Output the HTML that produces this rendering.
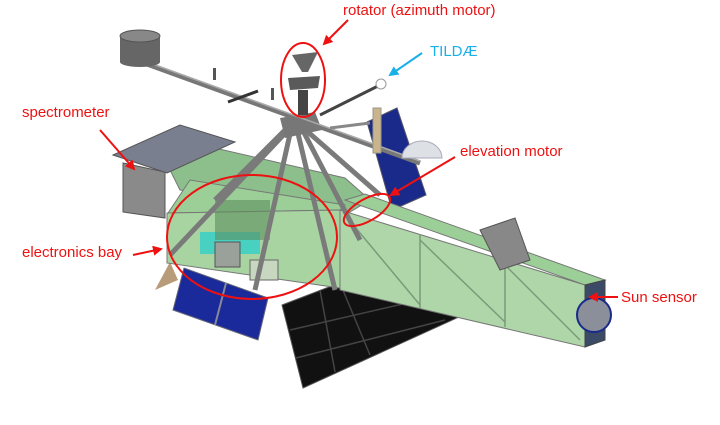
<!DOCTYPE html>
<html><head><style>body{margin:0;background:#fff}svg{display:block}text{font-family:"Liberation Sans",sans-serif;font-size:15px}</style></head><body>
<svg width="720" height="425" viewBox="0 0 720 425">
<defs><marker id="ar" viewBox="0 0 10 10" refX="8" refY="5" markerWidth="5" markerHeight="5" orient="auto"><path d="M0,0L10,5L0,10z" fill="#e11"/></marker>
<marker id="ab" viewBox="0 0 10 10" refX="8" refY="5" markerWidth="5" markerHeight="5" orient="auto"><path d="M0,0L10,5L0,10z" fill="#19b0e8"/></marker></defs>
<!-- upper right blue panel -->
<polygon points="367,122 397,108 426,195 392,210" fill="#1a2a8a" stroke="#556"/>
<!-- back green -->
<polygon points="165,160 215,148 345,178 370,200 345,215 180,190" fill="#8cbf8c" stroke="#777"/>
<!-- spectrometer -->
<polygon points="123,163 165,172 165,218 123,212" fill="#8a8a8a" stroke="#555"/>
<polygon points="113,155 180,125 235,142 167,173" fill="#7a7f8f" stroke="#555"/>
<!-- lower left blue panels -->
<polygon points="173,310 184,268 268,298 258,340" fill="#1a2a9a" stroke="#667"/>
<line x1="226" y1="283" x2="215" y2="325" stroke="#889" stroke-width="2"/>
<polygon points="155,290 170,262 178,280" fill="#b89c7a"/>
<!-- black panel -->
<polygon points="282,305 355,277 470,312 303,388" fill="#111" stroke="#555"/>
<g stroke="#444" stroke-width="1.5"><line x1="320" y1="290" x2="335" y2="372"/><line x1="340" y1="283" x2="370" y2="355"/><line x1="290" y1="330" x2="420" y2="300"/><line x1="296" y1="358" x2="445" y2="320"/></g>
<!-- tube -->
<polygon points="345,200 365,194 605,280 585,285" fill="#9ccf98" stroke="#777"/>
<polygon points="340,210 585,285 585,347 340,290" fill="#aed6a8" stroke="#777"/>
<polygon points="585,285 605,280 605,340 585,347" fill="#3b4a66" stroke="#444"/>
<circle cx="594" cy="315" r="17" fill="#8a8f9a" stroke="#1a2a8a" stroke-width="2"/>
<g stroke="#7a9a7a" stroke-width="1.5"><line x1="420" y1="234" x2="420" y2="308"/><line x1="505" y1="260" x2="505" y2="327"/><line x1="345" y1="215" x2="420" y2="305"/><line x1="420" y1="240" x2="505" y2="322"/><line x1="505" y1="265" x2="580" y2="340"/></g>
<polygon points="480,230 515,218 530,260 500,270" fill="#888" stroke="#555"/>
<!-- electronics bay -->
<polygon points="168,213 190,180 345,205 340,210" fill="#9ccf98" stroke="#777"/>
<polygon points="167,213 340,210 340,288 167,263" fill="#a8d4a2" stroke="#777"/>
<rect x="200" y="232" width="60" height="22" fill="#48d0c0"/>
<rect x="215" y="200" width="55" height="40" fill="#5e8e5e" opacity=".6"/>
<rect x="215" y="242" width="25" height="25" fill="#9aa09a" stroke="#555"/>
<rect x="250" y="260" width="28" height="20" fill="#c8d8c0" stroke="#666"/>
<!-- frame -->
<g stroke="#7a7a7a" stroke-width="5" fill="none">
<line x1="290" y1="125" x2="215" y2="200"/><line x1="292" y1="125" x2="255" y2="290"/><line x1="296" y1="125" x2="335" y2="290"/><line x1="300" y1="125" x2="360" y2="240"/><line x1="300" y1="125" x2="380" y2="195"/><line x1="290" y1="128" x2="170" y2="255"/>
</g>
<polygon points="280,118 315,112 322,130 285,138" fill="#777"/>
<!-- beam -->
<line x1="147" y1="64" x2="420" y2="163" stroke="#777" stroke-width="5"/>
<line x1="147" y1="62" x2="420" y2="161" stroke="#aaa" stroke-width="1.5"/>
<line x1="320" y1="115" x2="380" y2="85" stroke="#444" stroke-width="3"/>
<line x1="228" y1="102" x2="258" y2="91" stroke="#333" stroke-width="3"/>
<line x1="330" y1="128" x2="370" y2="123" stroke="#888" stroke-width="3"/>
<circle cx="381" cy="84" r="5" fill="#fff" stroke="#999"/>
<rect x="373" y="108" width="8" height="45" fill="#c9b48d" stroke="#998"/>
<path d="M402,158 A20,17 0 0 1 442,158 Z" fill="#dde0e5" stroke="#aab"/>
<!-- cylinder -->
<rect x="120" y="36" width="40" height="26" fill="#666"/>
<ellipse cx="140" cy="36" rx="20" ry="6" fill="#888" stroke="#555"/>
<ellipse cx="140" cy="62" rx="20" ry="5" fill="#666"/>
<!-- rotator -->
<polygon points="292,55 318,52 308,72 302,72" fill="#666"/>
<polygon points="288,78 320,76 318,88 290,90" fill="#5a5a5a"/>
<rect x="298" y="90" width="10" height="25" fill="#444"/>
<rect x="213" y="68" width="3" height="12" fill="#555"/><rect x="271" y="88" width="3" height="12" fill="#555"/>
<!-- ellipses -->
<g fill="none" stroke="#e11" stroke-width="2">
<ellipse cx="303" cy="80" rx="22" ry="37"/>
<ellipse cx="252" cy="237" rx="85" ry="62"/>
<ellipse cx="367" cy="210" rx="26" ry="11" transform="rotate(-30 367 210)"/>
</g>
<!-- arrows -->
<g stroke="#e11" stroke-width="2" marker-end="url(#ar)">
<line x1="348" y1="20" x2="324" y2="44"/>
<line x1="100" y1="130" x2="134" y2="169"/>
<line x1="133" y1="255" x2="161" y2="249"/>
<line x1="455" y1="157" x2="391" y2="195"/>
<line x1="618" y1="297" x2="590" y2="297"/>
</g>
<line x1="422" y1="53" x2="390" y2="75" stroke="#19b0e8" stroke-width="2" marker-end="url(#ab)"/>
<g fill="#e11">
<text x="343" y="15">rotator (azimuth motor)</text>
<text x="22" y="117">spectrometer</text>
<text x="22" y="257">electronics bay</text>
<text x="460" y="156">elevation motor</text>
<text x="621" y="302">Sun sensor</text>
</g>
<text x="430" y="56" fill="#19b0e8">TILDÆ</text>
</svg>
</body></html>
